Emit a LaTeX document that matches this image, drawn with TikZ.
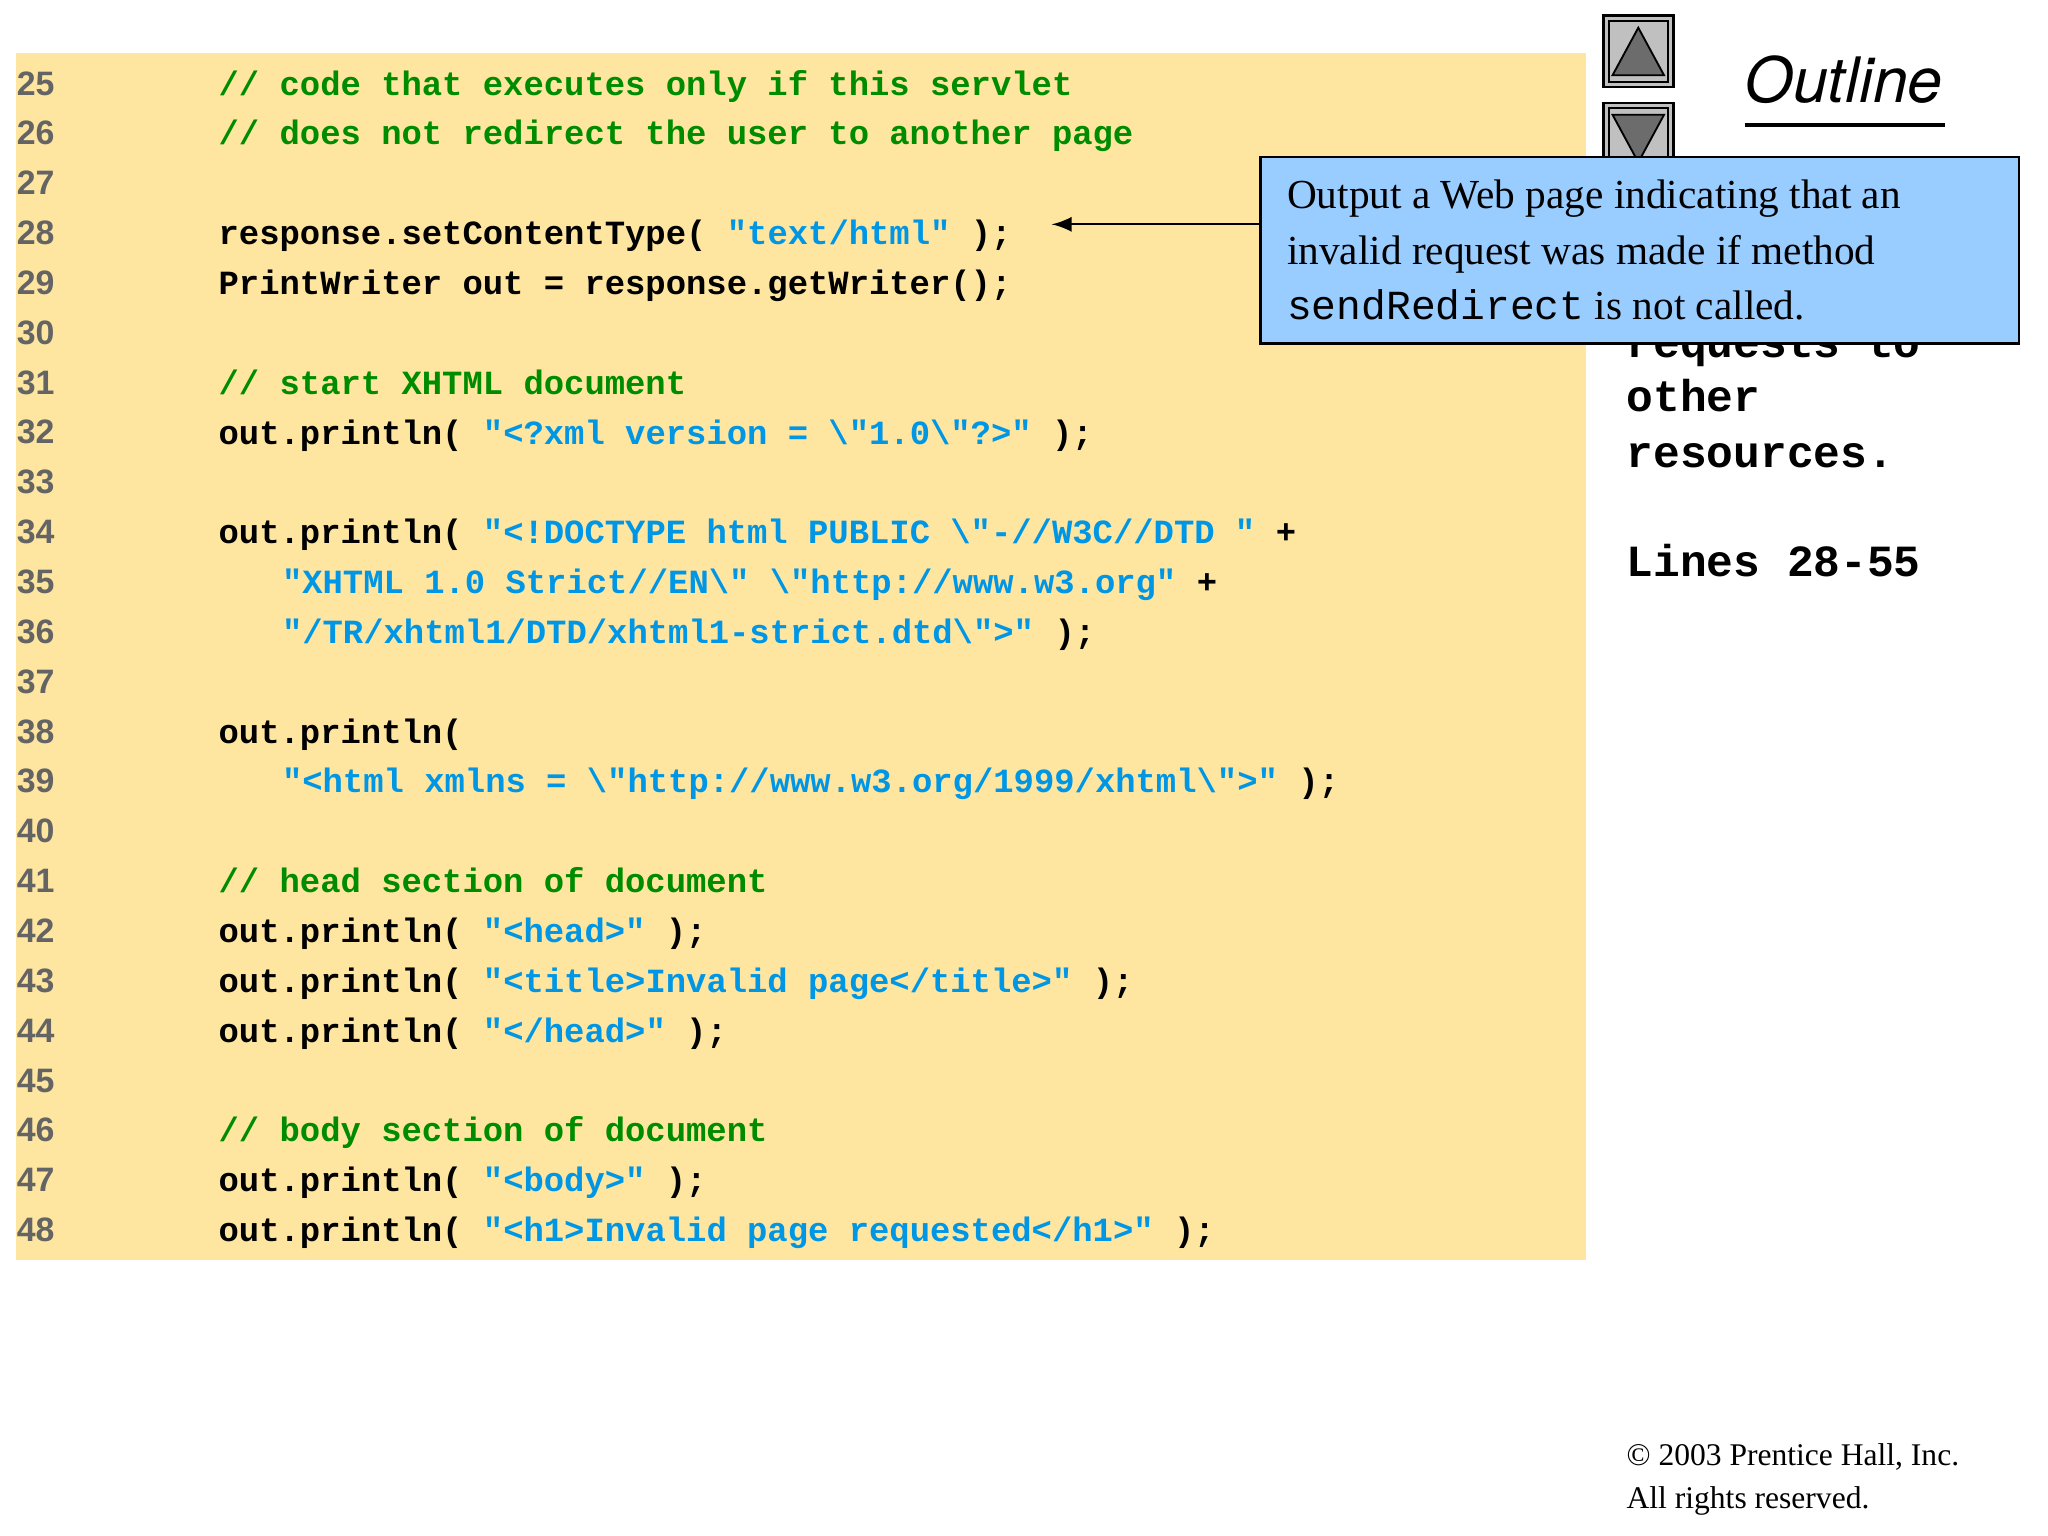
\documentclass[tikz,border=0pt]{standalone}
\usepackage{fontspec}
\setmainfont{Liberation Serif}
\setsansfont{Liberation Sans}
\setmonofont{Liberation Mono}
\newfontfamily\outlinefont{TeX Gyre Heros}
\usetikzlibrary{positioning}
\definecolor{codebg}{RGB}{254,230,160}
\definecolor{jgreen}{RGB}{0,140,0}
\definecolor{jblue}{RGB}{0,150,230}
\definecolor{notebg}{RGB}{153,204,255}
\definecolor{lnogray}{RGB}{100,100,100}
\definecolor{btngray}{RGB}{192,192,192}
\newcommand{\jcmt}[1]{\textcolor{jgreen}{#1}}
\newcommand{\jstr}[1]{\textcolor{jblue}{#1}}
\newcommand{\bs}{\textbackslash}
\tikzset{
  code/.style={anchor=base west, inner sep=0pt, font=\fontsize{7.3pt}{8pt}\ttfamily\bfseries},
  lno/.style={anchor=base west, inner sep=0pt, text=lnogray, font=\fontsize{7.3pt}{8pt}\sffamily\bfseries},
  side/.style={anchor=base west, inner sep=0pt, font=\fontsize{9.6pt}{10pt}\ttfamily\bfseries},
  btn/.style={draw=black, fill=btngray, line width=0.6pt}
}
\begin{document}
\begin{tikzpicture}[x=0.01cm, y=-0.01cm]
    \useasboundingbox (0,0) rectangle (1552,1164);
    \fill[codebg] (12,40) rectangle (1202,955);

    % line numbers
    \foreach \n [evaluate=\n as \yy using {72+37.78*(\n-25)}] in {25,...,48}
    \node[lno] (l\n) at (12,\yy) {\n};

    % code
    \def\cx{165} \def\ci{213}
    \node[code] (c25) at (\cx,72.0) {\jcmt{// code that executes only if this servlet}};
    \node[code] (c26) at (\cx,109.8) {\jcmt{// does not redirect the user to another page}};
    \node[code] (c28) at (\cx,185.3) {response.setContentType( \jstr{"text/html"} );};
    \node[code] (c29) at (\cx,223.1) {PrintWriter out = response.getWriter();};
    \node[code] (c31) at (\cx,298.7) {\jcmt{// start XHTML document}};
    \node[code] (c32) at (\cx,336.5) {out.println( \jstr{"<?xml version = \bs"1.0\bs"?>"} );};
    \node[code] (c34) at (\cx,412.0) {out.println( \jstr{"<!DOCTYPE html PUBLIC \bs"-//W3C//DTD "} +};
    \node[code] (c35) at (\ci,449.8) {\jstr{"XHTML 1.0 Strict//EN\bs" \bs"http://www.w3.org"} +};
    \node[code] (c36) at (\ci,487.6) {\jstr{"/TR/xhtml1/DTD/xhtml1-strict.dtd\bs">"} );};
    \node[code] (c38) at (\cx,563.2) {out.println(};
    \node[code] (c39) at (\ci,600.9) {\jstr{"<html xmlns = \bs"http://www.w3.org/1999/xhtml\bs">"} );};
    \node[code] (c41) at (\cx,676.5) {\jcmt{// head section of document}};
    \node[code] (c42) at (\cx,714.3) {out.println( \jstr{"<head>"} );};
    \node[code] (c43) at (\cx,752.0) {out.println( \jstr{"<title>Invalid page</title>"} );};
    \node[code] (c44) at (\cx,789.8) {out.println( \jstr{"</head>"} );};
    \node[code] (c46) at (\cx,865.4) {\jcmt{// body section of document}};
    \node[code] (c47) at (\cx,903.2) {out.println( \jstr{"<body>"} );};
    \node[code] (c48) at (\cx,940.9) {out.println( \jstr{"<h1>Invalid page requested</h1>"} );};

    % outline side
    \draw[btn] (1215,12) rectangle (1268,66);
    \draw[black] (1219,16) rectangle (1264,62);
    \filldraw[fill=gray!85!black, draw=black] (1222,57) -- (1241.5,21) -- (1261,57) -- cycle;
    \draw[btn] (1215,78) rectangle (1268,131);
    \draw[black] (1219,82) rectangle (1264,127);
    \filldraw[fill=gray!85!black, draw=black] (1222,87) -- (1241.5,123) -- (1261,87) -- cycle;
    \node[anchor=base, inner sep=0pt, font=\fontsize{13.5pt}{14pt}\outlinefont\itshape] (outl) at (1397,78) {Outline};
    \draw[line width=0.8pt] (1322,95) -- (1474,95);

    \node[side] (s1) at (1508,186) {t};
    \node[side] (s2) at (1232,271) {requests to};
    \node[side] (s3) at (1232,312) {other};
    \node[side] (s4) at (1232,354) {resources.};
    \node[side] (s5) at (1232,437) {Lines 28-55};

    % callout
    \node[draw=black, fill=notebg, line width=0.6pt, anchor=north west, minimum width=575*0.01cm, minimum height=141*0.01cm,
          inner sep=0pt, align=left, font=\fontsize{8.9pt}{11.9pt}\selectfont] (note) at (954,118)
          {\hspace*{0.16cm}\begin{minipage}{5.5cm}Output a Web page indicating that an\\invalid request was made if method\\{\ttfamily sendRedirect} is not called.\end{minipage}};
    \coordinate (tip) at (797,170);
    \draw[-latex, line width=0.5pt] (note.west |- tip) -- (tip);

    % copyright
    \node[anchor=base west, inner sep=0pt, align=left, font=\fontsize{6.8pt}{9.3pt}\selectfont] (copy) at (1232,1143)
          {\textcopyright{} 2003 Prentice Hall, Inc.\\All rights reserved.};
\end{tikzpicture}
\end{document}
